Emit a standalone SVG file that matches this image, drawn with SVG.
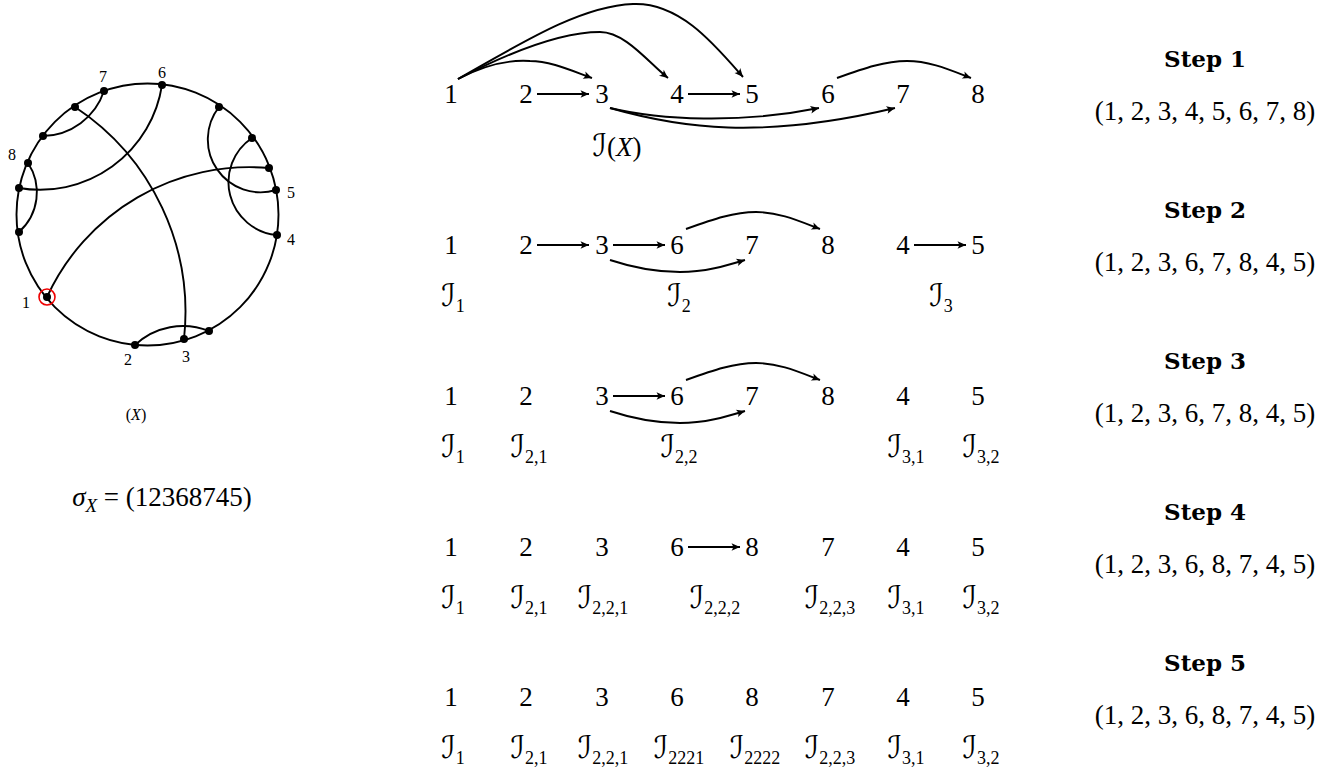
<svg xmlns="http://www.w3.org/2000/svg" width="1334" height="768" viewBox="0 0 1334 768">
<style>
.num{font-family:"Liberation Serif",serif;font-size:27px;text-anchor:middle;fill:#000}
.lab{font-family:"Liberation Serif","DejaVu Serif","DejaVu Sans",serif;font-size:31px;text-anchor:middle;fill:#000}
.sub{font-size:18px}
.par{font-size:27px}
.step{font-family:"DejaVu Serif",serif;font-weight:bold;font-size:23px;text-anchor:middle;fill:#000}
.tup{font-family:"Liberation Serif",serif;font-size:27px;text-anchor:middle;fill:#000}
.cl{font-family:"Liberation Serif",serif;font-size:16px;text-anchor:middle;fill:#000}
.edge{fill:none;stroke:#000;stroke-width:1.9}
.arr{fill:none;stroke:#000;stroke-width:1.9;marker-end:url(#ah)}
.dot{fill:#000}
</style>
<defs>
<marker id="ah" viewBox="-9 -5 10 10" refX="0" refY="0" markerWidth="10" markerHeight="10" markerUnits="userSpaceOnUse" orient="auto">
<path d="M0,0 L-8.5,-3.8 Q-5.5,0 -8.5,3.8 Z" fill="#000"/>
</marker>
</defs>
<rect width="1334" height="768" fill="#fff"/>

<!-- circle diagram -->
<g id="circle-diagram">
<circle cx="147.5" cy="214.5" r="131" class="edge"/>
<g id="chords">
<path class="edge" d="M75,107 A246,246 0 0 1 184,339"/>
<path class="edge" d="M104,91 A65.8,65.8 0 0 1 43,136"/>
<path class="edge" d="M162,85 A123.4,123.4 0 0 1 19,188"/>
<path class="edge" d="M28,163 A53,53 0 0 1 19,232"/>
<path class="edge" d="M47,297 A222.9,222.9 0 0 1 269,168"/>
<path class="edge" d="M219,107 A52.8,52.8 0 0 0 276,190"/>
<path class="edge" d="M252,138 A53.1,53.1 0 0 0 277,235"/>
<path class="edge" d="M135,345 A70,70 0 0 1 209,331"/>
</g>
<g id="c1"><circle class="dot" cx="47" cy="297" r="4"/><circle cx="47" cy="297" r="8" fill="none" stroke="#e00" stroke-width="1.6"/><text class="cl" x="26" y="308">1</text></g>
<g id="c2"><circle class="dot" cx="135" cy="345" r="4"/><text class="cl" x="128" y="365">2</text></g>
<g id="c3"><circle class="dot" cx="184" cy="339" r="4"/><text class="cl" x="186" y="362">3</text></g>
<g id="c4"><circle class="dot" cx="277" cy="235" r="4"/><text class="cl" x="291" y="245">4</text></g>
<g id="c5"><circle class="dot" cx="276" cy="190" r="4"/><text class="cl" x="291" y="198">5</text></g>
<g id="c6"><circle class="dot" cx="162" cy="85" r="4"/><text class="cl" x="162" y="78">6</text></g>
<g id="c7"><circle class="dot" cx="104" cy="91" r="4"/><text class="cl" x="103" y="82">7</text></g>
<g id="c8"><circle class="dot" cx="28" cy="163" r="4"/><text class="cl" x="12" y="160">8</text></g>
<g id="c-a"><circle class="dot" cx="75" cy="107" r="4"/></g>
<g id="c-b"><circle class="dot" cx="43" cy="136" r="4"/></g>
<g id="c-c"><circle class="dot" cx="19" cy="188" r="4"/></g>
<g id="c-d"><circle class="dot" cx="19" cy="232" r="4"/></g>
<g id="c-e"><circle class="dot" cx="209" cy="331" r="4"/></g>
<g id="c-f"><circle class="dot" cx="269" cy="168" r="4"/></g>
<g id="c-g"><circle class="dot" cx="252" cy="138" r="4"/></g>
<g id="c-h"><circle class="dot" cx="219" cy="107" r="4"/></g>
<text class="cl" x="136" y="420" font-size="17">(<tspan font-style="italic">X</tspan>)</text>
<text class="num" x="162" y="506"><tspan font-style="italic">σ</tspan><tspan font-style="italic" font-size="19" dy="6">X</tspan><tspan dy="-6"> = (12368745)</tspan></text>
</g>

<!-- step rows: nodes -->
<g id="row1">
<g id="r1-1"><text class="num" x="451" y="103">1</text></g>
<g id="r1-2"><text class="num" x="526" y="103">2</text></g>
<g id="r1-3"><text class="num" x="602" y="103">3</text></g>
<g id="r1-4"><text class="num" x="677" y="103">4</text></g>
<g id="r1-5"><text class="num" x="752" y="103">5</text></g>
<g id="r1-6"><text class="num" x="828" y="103">6</text></g>
<g id="r1-7"><text class="num" x="903" y="103">7</text></g>
<g id="r1-8"><text class="num" x="978" y="103">8</text></g>
<text class="lab" x="617" y="156">ℐ<tspan class="par">(<tspan font-style="italic">X</tspan>)</tspan></text>
</g>
<g id="row2">
<g id="r2-1"><text class="num" x="451" y="254">1</text></g>
<g id="r2-2"><text class="num" x="526" y="254">2</text></g>
<g id="r2-3"><text class="num" x="602" y="254">3</text></g>
<g id="r2-6"><text class="num" x="677" y="254">6</text></g>
<g id="r2-7"><text class="num" x="752" y="254">7</text></g>
<g id="r2-8"><text class="num" x="828" y="254">8</text></g>
<g id="r2-4"><text class="num" x="903" y="254">4</text></g>
<g id="r2-5"><text class="num" x="978" y="254">5</text></g>
<text class="lab" x="453" y="306">ℐ<tspan class="sub" dy="6">1</tspan></text>
<text class="lab" x="679" y="306">ℐ<tspan class="sub" dy="6">2</tspan></text>
<text class="lab" x="941" y="306">ℐ<tspan class="sub" dy="6">3</tspan></text>
</g>
<g id="row3">
<g id="r3-1"><text class="num" x="451" y="405">1</text></g>
<g id="r3-2"><text class="num" x="526" y="405">2</text></g>
<g id="r3-3"><text class="num" x="602" y="405">3</text></g>
<g id="r3-6"><text class="num" x="677" y="405">6</text></g>
<g id="r3-7"><text class="num" x="752" y="405">7</text></g>
<g id="r3-8"><text class="num" x="828" y="405">8</text></g>
<g id="r3-4"><text class="num" x="903" y="405">4</text></g>
<g id="r3-5"><text class="num" x="978" y="405">5</text></g>
<text class="lab" x="453" y="457">ℐ<tspan class="sub" dy="6">1</tspan></text>
<text class="lab" x="529" y="457">ℐ<tspan class="sub" dy="6">2,1</tspan></text>
<text class="lab" x="679" y="457">ℐ<tspan class="sub" dy="6">2,2</tspan></text>
<text class="lab" x="906" y="457">ℐ<tspan class="sub" dy="6">3,1</tspan></text>
<text class="lab" x="981" y="457">ℐ<tspan class="sub" dy="6">3,2</tspan></text>
</g>
<g id="row4">
<g id="r4-1"><text class="num" x="451" y="556">1</text></g>
<g id="r4-2"><text class="num" x="526" y="556">2</text></g>
<g id="r4-3"><text class="num" x="602" y="556">3</text></g>
<g id="r4-6"><text class="num" x="677" y="556">6</text></g>
<g id="r4-8"><text class="num" x="752" y="556">8</text></g>
<g id="r4-7"><text class="num" x="828" y="556">7</text></g>
<g id="r4-4"><text class="num" x="903" y="556">4</text></g>
<g id="r4-5"><text class="num" x="978" y="556">5</text></g>
<text class="lab" x="453" y="608">ℐ<tspan class="sub" dy="6">1</tspan></text>
<text class="lab" x="529" y="608">ℐ<tspan class="sub" dy="6">2,1</tspan></text>
<text class="lab" x="603" y="608">ℐ<tspan class="sub" dy="6">2,2,1</tspan></text>
<text class="lab" x="715" y="608">ℐ<tspan class="sub" dy="6">2,2,2</tspan></text>
<text class="lab" x="830" y="608">ℐ<tspan class="sub" dy="6">2,2,3</tspan></text>
<text class="lab" x="906" y="608">ℐ<tspan class="sub" dy="6">3,1</tspan></text>
<text class="lab" x="981" y="608">ℐ<tspan class="sub" dy="6">3,2</tspan></text>
</g>
<g id="row5">
<g id="r5-1"><text class="num" x="451" y="706">1</text></g>
<g id="r5-2"><text class="num" x="526" y="706">2</text></g>
<g id="r5-3"><text class="num" x="602" y="706">3</text></g>
<g id="r5-6"><text class="num" x="677" y="706">6</text></g>
<g id="r5-8"><text class="num" x="752" y="706">8</text></g>
<g id="r5-7"><text class="num" x="828" y="706">7</text></g>
<g id="r5-4"><text class="num" x="903" y="706">4</text></g>
<g id="r5-5"><text class="num" x="978" y="706">5</text></g>
<text class="lab" x="453" y="758">ℐ<tspan class="sub" dy="6">1</tspan></text>
<text class="lab" x="529" y="758">ℐ<tspan class="sub" dy="6">2,1</tspan></text>
<text class="lab" x="603" y="758">ℐ<tspan class="sub" dy="6">2,2,1</tspan></text>
<text class="lab" x="679" y="758">ℐ<tspan class="sub" dy="6">2221</tspan></text>
<text class="lab" x="755" y="758">ℐ<tspan class="sub" dy="6">2222</tspan></text>
<text class="lab" x="830" y="758">ℐ<tspan class="sub" dy="6">2,2,3</tspan></text>
<text class="lab" x="906" y="758">ℐ<tspan class="sub" dy="6">3,1</tspan></text>
<text class="lab" x="981" y="758">ℐ<tspan class="sub" dy="6">3,2</tspan></text>
</g>

<!-- connectors -->
<g id="connectors">
<path class="arr" d="M537,94 H589"/>
<path class="arr" d="M688,94 H740"/>
<path class="arr" d="M458,79 C490,62 515,60 530,61 C550,61 570,70 592,78"/>
<path class="arr" d="M458,79 C510,52 560,32 600,32 C625,32 648,62 668,78"/>
<path class="arr" d="M458,79 C520,44 580,6 633,4 C680,2 715,45 743,77"/>
<path class="arr" d="M837,78 C865,68 885,61 907,61 C930,61 950,70 971,78"/>
<path class="arr" d="M610,108 C660,120 740,124 819,108"/>
<path class="arr" d="M610,108 C680,128 760,140 895,108"/>

<path class="arr" d="M537,245 H589"/>
<path class="arr" d="M613,245 H665"/>
<path class="arr" d="M914,245 H966"/>
<path class="arr" d="M686,229 C714,219 734,212 756,212 C779,212 799,221 820,229"/>
<path class="arr" d="M610,260 C640,270 660,272 680,272 C705,272 725,266 745,260"/>

<path class="arr" d="M613,396 H665"/>
<path class="arr" d="M686,380 C714,370 734,363 756,363 C779,363 799,372 820,380"/>
<path class="arr" d="M610,411 C640,421 660,423 680,423 C705,423 725,417 745,411"/>

<path class="arr" d="M688,547 H740"/>
</g>

<!-- step captions -->
<g id="steps">
<g id="step1"><text class="step" x="1205" y="67">Step 1</text><text class="tup" x="1205" y="120">(1, 2, 3, 4, 5, 6, 7, 8)</text></g>
<g id="step2"><text class="step" x="1205" y="218">Step 2</text><text class="tup" x="1205" y="271">(1, 2, 3, 6, 7, 8, 4, 5)</text></g>
<g id="step3"><text class="step" x="1205" y="369">Step 3</text><text class="tup" x="1205" y="422">(1, 2, 3, 6, 7, 8, 4, 5)</text></g>
<g id="step4"><text class="step" x="1205" y="520">Step 4</text><text class="tup" x="1205" y="573">(1, 2, 3, 6, 8, 7, 4, 5)</text></g>
<g id="step5"><text class="step" x="1205" y="671">Step 5</text><text class="tup" x="1205" y="724">(1, 2, 3, 6, 8, 7, 4, 5)</text></g>
</g>
</svg>
